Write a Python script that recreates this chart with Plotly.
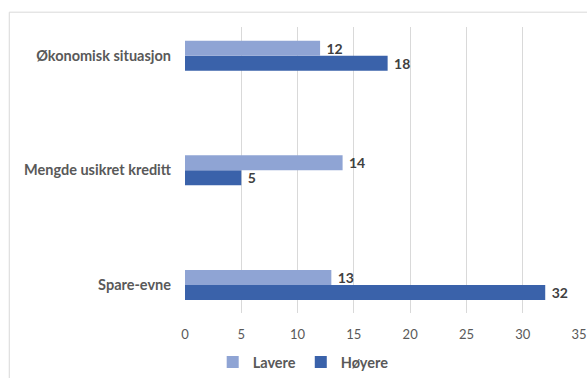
import plotly.graph_objects as go

# Categories listed bottom-to-top on the y axis
categories = ["Spare-evne", "Mengde usikret kreditt", "Økonomisk situasjon"]
lavere = [13, 14, 12]
hoyere = [32, 5, 18]
x_ticks = [0, 5, 10, 15, 20, 25, 30, 35]

LIGHT = "#8FA4D4"
DARK = "#3A62AA"
GRID = "#D9D9D9"
TEXT = "#595959"
LABEL = "#404040"
FONT = "Lato, 'Noto Sans', sans-serif"

fig = go.Figure()

# In grouped horizontal bars the first trace sits lowest, so Høyere goes first
fig.add_trace(go.Bar(
    y=categories, x=hoyere, name="Høyere", orientation="h",
    marker=dict(color=DARK, line=dict(width=0)),
    text=hoyere, texttemplate="\u00a0%{x}", textposition="outside",
    outsidetextfont=dict(family=FONT, size=14, color=LABEL, weight="bold"),
    constraintext="none", cliponaxis=False,
))
fig.add_trace(go.Bar(
    y=categories, x=lavere, name="Lavere", orientation="h",
    marker=dict(color=LIGHT, line=dict(width=0)),
    text=lavere, texttemplate="\u00a0%{x}", textposition="outside",
    outsidetextfont=dict(family=FONT, size=14, color=LABEL, weight="bold"),
    constraintext="none", cliponaxis=False,
))

fig.update_layout(
    width=587, height=378,
    margin=dict(l=185.3, r=7.5, t=27.3, b=65),
    paper_bgcolor="white", plot_bgcolor="white",
    barmode="group", bargap=0.738, bargroupgap=0,
    font=dict(family=FONT, color=TEXT),
    showlegend=True,
    legend=dict(
        orientation="h", traceorder="reversed",
        x=0.30, xanchor="center",
        yref="container", y=0.042, yanchor="middle",
        font=dict(family=FONT, size=14.5, color=TEXT, weight="bold"),
        bgcolor="rgba(0,0,0,0)", itemwidth=30,
    ),
    xaxis=dict(
        range=[0, 35], tickvals=x_ticks, ticktext=[str(v) for v in x_ticks],
        showgrid=True, gridcolor=GRID, gridwidth=1,
        zeroline=False, showline=False, automargin=False,
        tickfont=dict(family=FONT, size=13, color=TEXT),
        ticklabelstandoff=12,
    ),
    yaxis=dict(
        type="category", categoryorder="array", categoryarray=categories,
        range=[-0.245, 2.25], automargin=False,
        showgrid=False, zeroline=False, showline=False,
        tickfont=dict(family=FONT, size=14.5, color=TEXT, weight="bold"),
        ticklabelstandoff=13,
    ),
    shapes=[dict(
        type="rect", xref="paper", yref="paper",
        x0=-0.446, x1=1.2, y0=-0.5, y1=1.0518,
        line=dict(color=GRID, width=1), fillcolor="rgba(0,0,0,0)",
        layer="below",
    )],
)

fig.write_html("out.html")
